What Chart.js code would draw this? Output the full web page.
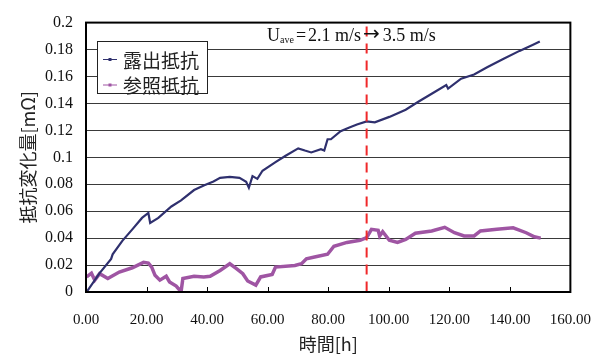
<!DOCTYPE html>
<html>
<head>
<meta charset="utf-8">
<script src="https://cdn.jsdelivr.net/npm/chart.js@4"></script>
<style>
html,body{margin:0;padding:0;background:#fff;}
#wrap{width:610px;height:356px;}
</style>
</head>
<body>
<div id="wrap"><canvas id="c" width="610" height="356"></canvas></div>
<script>
// ---- data ----
const exposedHours  = [0.2,4.5,8.3,8.8,12,15.3,18.5,20.6,21.2,23.9,28.2,31.4,35.7,38.9,42.1,44.3,47.5,50.7,52.9,53.8,55.0,56.6,58.3,62.6,65.8,70.1,72.3,74.4,77.6,78.7,79.8,80.9,84.1,86.8,89.5,92.7,95.4,100.2,105.6,109.9,115.3,119.0,119.6,123.9,128.2,132.5,137.8,143.2,147.5,149.9];
const exposedValues = [0.000,0.014,0.0246,0.028,0.038,0.0465,0.055,0.0587,0.0513,0.055,0.0635,0.068,0.0757,0.079,0.082,0.0847,0.0854,0.0847,0.0818,0.0774,0.086,0.084,0.090,0.0964,0.101,0.1066,0.105,0.1036,0.106,0.105,0.1134,0.1134,0.1194,0.122,0.1243,0.1267,0.126,0.130,0.1353,0.1414,0.1487,0.1536,0.151,0.1584,0.1615,0.1669,0.173,0.179,0.1834,0.186];
const refHours  = [0.2,1.8,2.9,4.5,7.2,11,15.3,19.0,20.6,21.7,22.8,24.4,26.5,27.6,29.8,31.4,32,35.7,38.9,41,44.3,47.5,49.7,51.8,53.4,56.1,57.7,61.5,62.6,69,71.2,72.8,75.5,79.8,81.9,86.2,90.5,92.7,94.3,96.5,97,98,100.2,102.9,105.6,108.8,114.2,118.5,121.7,124.9,128.2,130.3,135.7,141.1,145.4,148.1,150.2];
const refValues = [0.0112,0.014,0.0088,0.0136,0.010,0.0148,0.018,0.022,0.0215,0.0185,0.0124,0.0088,0.0117,0.0075,0.0044,0.0002,0.010,0.0117,0.0112,0.0117,0.016,0.021,0.0174,0.0136,0.0082,0.0051,0.0112,0.013,0.0185,0.0197,0.021,0.0246,0.026,0.028,0.034,0.0368,0.0384,0.0404,0.0465,0.0458,0.0416,0.0448,0.0384,0.0368,0.039,0.0436,0.0453,0.048,0.044,0.0416,0.0416,0.0453,0.0465,0.0477,0.044,0.041,0.040];
const seriesNames = ['露出抵抗','参照抵抗'];
const xTickLabels = ['0.00','20.00','40.00','60.00','80.00','100.00','120.00','140.00','160.00'];
const yTickLabels = ['0','0.02','0.04','0.06','0.08','0.1','0.12','0.14','0.16','0.18','0.2'];
const changeHour = 92.7;
const xTitle = '時間[h]';
const yTitle = '抵抗変化量[mΩ]';

const navy = '#2f306e';
const pink = '#9f55a3';
const serif = '"Liberation Serif","DejaVu Serif",serif';
const cjk = '"Noto Sans CJK JP","Noto Sans CJK SC",sans-serif';

const overlay = {
  id: 'overlay',
  afterDatasetsDraw(chart) {
    const {ctx, chartArea: a, scales: {x, y}} = chart;
    ctx.save();
    // inner x ticks
    ctx.strokeStyle = '#000';
    ctx.lineWidth = 1;
    xTickLabels.forEach((_, i) => {
      const px = Math.round(x.getPixelForValue(i * 20)) + 0.5;
      ctx.beginPath(); ctx.moveTo(px, a.bottom); ctx.lineTo(px, a.bottom - 5); ctx.stroke();
    });
    // dashed line
    const dx = x.getPixelForValue(changeHour);
    ctx.strokeStyle = '#f0282a';
    ctx.lineWidth = 2;
    ctx.setLineDash([10, 7]);
    ctx.beginPath(); ctx.moveTo(dx, a.top + 4); ctx.lineTo(dx, a.bottom); ctx.stroke();
    ctx.setLineDash([]);
    // frame
    ctx.strokeStyle = '#000';
    ctx.lineWidth = 2;
    ctx.strokeRect(a.left, a.top, a.right - a.left, a.bottom - a.top);
    // legend
    const lx = 97, ly = 41, lw = 110, lh = 52;
    ctx.fillStyle = '#fff';
    ctx.fillRect(lx, ly, lw, lh);
    ctx.strokeStyle = '#222';
    ctx.lineWidth = 1;
    ctx.strokeRect(lx + 0.5, ly + 0.5, lw, lh);
    const cols = [navy, pink];
    const rows = [59.5, 85];
    ctx.font = '19px ' + cjk;
    ctx.textBaseline = 'middle';
    ctx.textAlign = 'left';
    seriesNames.forEach((n, i) => {
      ctx.strokeStyle = cols[i];
      ctx.fillStyle = cols[i];
      ctx.lineWidth = 1;
      ctx.beginPath(); ctx.moveTo(103, rows[i]); ctx.lineTo(117, rows[i]); ctx.stroke();
      ctx.fillRect(108.5, rows[i] - 1.5, 3, 3);
      ctx.fillStyle = '#222';
      ctx.fillText(n, 123, rows[i] + 1);
    });
    // annotation
    ctx.fillStyle = '#111';
    ctx.textBaseline = 'alphabetic';
    let tx = 267, ty = 41;
    const put = (t, font, dy, gap) => {
      ctx.font = font; ctx.fillText(t, tx, ty + dy); tx += ctx.measureText(t).width + gap;
    };
    put('U', '18px ' + serif, 0, 0);
    put('ave', '10px ' + serif, 2, 2);
    put('=', '18px ' + serif, 0, 2);
    put('2.1 m/s', '18px ' + serif, 0, 2);
    put('→', '20px "DejaVu Sans",sans-serif', -1, 3);
    put('3.5 m/s', '18px ' + serif, 0, 0);
    ctx.restore();
  }
};

new Chart(document.getElementById('c'), {
  type: 'line',
  data: {
    datasets: [
      {label: seriesNames[0], data: exposedHours.map((h, i) => ({x: h, y: exposedValues[i]})),
       borderColor: navy, backgroundColor: navy, borderWidth: 2.2, pointRadius: 0, tension: 0},
      {label: seriesNames[1], data: refHours.map((h, i) => ({x: h, y: refValues[i]})),
       borderColor: pink, backgroundColor: pink, borderWidth: 3.5, pointRadius: 0, tension: 0}
    ]
  },
  options: {
    responsive: false,
    animation: false,
    devicePixelRatio: 1,
    layout: {padding: {top: 17, right: 28, left: 0, bottom: 0}},
    plugins: {legend: {display: false}, tooltip: {enabled: false}},
    scales: {
      x: {
        type: 'linear', min: 0, max: 160,
        ticks: {stepSize: 20, padding: 19, color: '#111', font: {family: serif, size: 15},
                callback: (v, i) => xTickLabels[i], maxRotation: 0},
        grid: {display: false, drawTicks: false},
        border: {display: false},
        title: {display: true, text: xTitle, color: '#222', font: {family: cjk, size: 18}, padding: {top: 0, bottom: 1}},
        afterFit: s => { s.height = 64; }
      },
      y: {
        min: 0, max: 0.2,
        ticks: {stepSize: 0.02, padding: 13, color: '#111', font: {family: serif, size: 16},
                callback: (v, i) => yTickLabels[i]},
        grid: {color: '#3a3a3a', lineWidth: 1, drawTicks: false},
        border: {display: false},
        title: {display: true, text: yTitle, color: '#222', font: {family: cjk, size: 18}, padding: {top: 17, bottom: 0}},
        afterFit: s => { s.width = 86; }
      }
    }
  },
  plugins: [overlay]
});
</script>
</body>
</html>
